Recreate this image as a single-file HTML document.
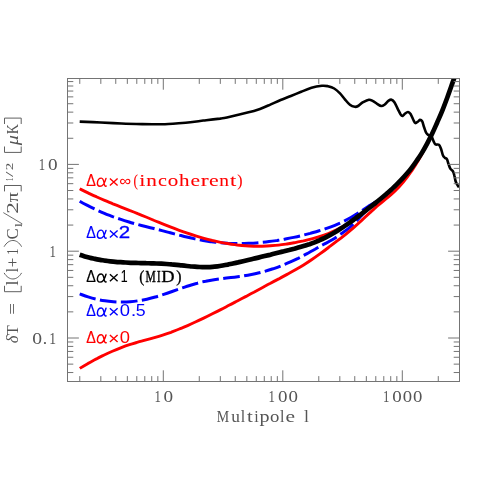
<!DOCTYPE html>
<html><head><meta charset="utf-8">
<style>
html,body{margin:0;padding:0;background:#fff;}
body{width:485px;height:485px;overflow:hidden;position:relative;font-family:"Liberation Serif",serif;}
svg{position:absolute;left:0;top:0;will-change:transform;}
</style></head><body>
<svg width="485" height="485" viewBox="0 0 485 485">
<defs><clipPath id="cp"><rect x="67" y="78" width="393" height="304"/></clipPath></defs>
<rect x="0" y="0" width="485" height="485" fill="#fff"/>
<g clip-path="url(#cp)" fill="none" stroke-linejoin="round">
<path d="M79.7 201.3C81.1 202.1 85.2 204.3 87.9 205.7C90.7 207.1 93.4 208.5 96.2 209.7C98.9 211.0 101.7 212.2 104.4 213.3C107.1 214.5 109.9 215.5 112.6 216.6C115.4 217.6 118.1 218.5 120.9 219.4C123.6 220.4 126.3 221.2 129.1 222.0C131.8 222.9 134.6 223.6 137.3 224.4C140.1 225.1 142.8 225.8 145.6 226.5C148.3 227.2 151.0 227.9 153.8 228.5C156.5 229.2 159.3 229.9 162.0 230.6C164.8 231.3 167.5 232.1 170.2 232.8C173.0 233.5 175.7 234.2 178.5 234.9C181.2 235.6 184.0 236.4 186.7 237.0C189.5 237.7 192.2 238.3 194.9 238.9C197.7 239.5 200.4 240.0 203.2 240.5C205.9 241.0 208.7 241.4 211.4 241.8C214.1 242.1 216.9 242.4 219.6 242.7C222.4 242.9 225.1 243.1 227.9 243.3C230.6 243.4 233.4 243.5 236.1 243.5C238.8 243.6 241.6 243.6 244.3 243.5C247.1 243.4 249.8 243.3 252.6 243.2C255.3 243.0 258.1 242.8 260.8 242.5C263.5 242.3 266.3 242.0 269.0 241.6C271.8 241.3 274.5 240.9 277.3 240.5C280.0 240.0 282.7 239.6 285.5 239.0C288.2 238.5 291.0 238.0 293.7 237.4C296.5 236.8 299.2 236.2 302.0 235.5C304.7 234.8 307.4 234.1 310.2 233.4C312.9 232.6 315.7 231.9 318.4 231.0C321.2 230.2 323.9 229.4 326.6 228.4C329.4 227.4 332.1 226.4 334.9 225.3C337.6 224.2 340.4 223.0 343.1 221.7C345.9 220.3 348.6 218.9 351.3 217.3C354.1 215.7 356.8 214.0 359.6 212.2C362.3 210.5 365.1 208.6 367.8 206.8C370.5 205.1 373.3 203.5 376.0 201.7C378.8 199.9 381.5 198.3 384.3 196.0C387.0 193.8 391.1 189.5 392.5 188.2" stroke="#0000ff" stroke-width="3" stroke-dasharray="16.7 4.4"/>
<path d="M79.7 293.9C81.1 294.4 85.3 296.0 88.1 296.9C90.9 297.8 93.7 298.6 96.5 299.2C99.3 299.9 102.1 300.4 104.9 300.8C107.7 301.3 110.5 301.6 113.3 301.8C116.1 302.0 118.9 302.1 121.7 302.1C124.5 302.0 127.3 301.9 130.1 301.7C132.9 301.5 135.7 301.2 138.5 300.7C141.3 300.3 144.1 299.8 146.9 299.2C149.7 298.6 152.5 297.8 155.3 297.0C158.1 296.3 160.9 295.4 163.7 294.4C166.5 293.5 169.3 292.5 172.1 291.5C174.9 290.5 177.7 289.5 180.5 288.5C183.3 287.6 186.1 286.6 188.9 285.7C191.7 284.8 194.5 283.9 197.3 283.2C200.1 282.4 202.9 281.7 205.7 281.2C208.5 280.6 211.3 280.1 214.1 279.7C216.9 279.3 219.7 278.9 222.5 278.6C225.3 278.2 228.1 277.9 230.9 277.6C233.8 277.3 236.6 276.9 239.4 276.5C242.2 276.2 245.0 275.7 247.8 275.2C250.6 274.7 253.4 274.2 256.2 273.5C259.0 272.9 261.8 272.1 264.6 271.4C267.4 270.6 270.2 269.7 273.0 268.8C275.8 267.8 278.6 266.8 281.4 265.7C284.2 264.6 287.0 263.5 289.8 262.2C292.6 261.0 295.4 259.6 298.2 258.3C301.0 256.9 303.8 255.4 306.6 253.9C309.4 252.4 312.2 250.7 315.0 249.2C317.8 247.6 320.6 246.0 323.4 244.5C326.2 243.0 329.0 241.7 331.8 240.0C334.6 238.4 337.4 236.4 340.2 234.4C343.0 232.5 345.8 230.7 348.6 228.4C351.4 226.0 354.2 223.2 357.0 220.4C359.8 217.5 362.6 214.0 365.4 211.4C368.2 208.7 371.0 206.6 373.8 204.3C376.6 202.0 380.8 198.7 382.2 197.6" stroke="#0000ff" stroke-width="3" stroke-dasharray="16.7 4.4"/>
<path d="M79.7 188.8C81.1 189.5 85.2 191.6 88.0 192.9C90.8 194.2 93.5 195.5 96.3 196.7C99.0 198.0 101.8 199.2 104.6 200.3C107.3 201.5 110.1 202.6 112.9 203.8C115.6 204.9 118.4 206.0 121.1 207.1C123.9 208.2 126.7 209.3 129.4 210.4C132.2 211.4 135.0 212.5 137.7 213.7C140.5 214.8 143.2 215.9 146.0 217.0C148.8 218.2 151.5 219.3 154.3 220.5C157.1 221.6 159.8 222.8 162.6 223.9C165.3 225.0 168.1 226.1 170.9 227.2C173.6 228.3 176.4 229.3 179.2 230.3C181.9 231.3 184.7 232.3 187.4 233.2C190.2 234.2 193.0 235.1 195.7 235.9C198.5 236.8 201.3 237.6 204.0 238.3C206.8 239.1 209.5 239.8 212.3 240.5C215.1 241.1 217.8 241.7 220.6 242.3C223.4 242.9 226.1 243.4 228.9 243.8C231.7 244.3 234.4 244.6 237.2 245.0C239.9 245.3 242.7 245.6 245.5 245.8C248.2 246.0 251.0 246.1 253.8 246.2C256.5 246.2 259.3 246.2 262.0 246.2C264.8 246.1 267.6 246.0 270.3 245.8C273.1 245.6 275.9 245.4 278.6 245.1C281.4 244.8 284.1 244.4 286.9 244.0C289.7 243.6 292.4 243.1 295.2 242.6C298.0 242.1 300.7 241.5 303.5 240.9C306.2 240.2 309.0 239.6 311.8 238.8C314.5 238.1 317.3 237.3 320.1 236.4C322.8 235.5 325.6 234.5 328.3 233.5C331.1 232.4 333.9 231.2 336.6 229.9C339.4 228.6 342.2 227.2 344.9 225.6C347.7 224.0 350.4 222.2 353.2 220.3C356.0 218.4 360.1 215.0 361.5 214.0" stroke="#ff0000" stroke-width="2.9"/>
<path d="M79.8 368.4C81.2 367.5 85.3 365.0 88.1 363.4C90.9 361.9 93.6 360.3 96.4 358.9C99.1 357.4 101.9 356.1 104.7 354.7C107.4 353.4 110.2 352.2 113.0 351.0C115.7 349.8 118.5 348.7 121.3 347.6C124.0 346.6 126.8 345.6 129.5 344.7C132.3 343.8 135.1 343.0 137.8 342.2C140.6 341.4 143.4 340.7 146.1 339.9C148.9 339.2 151.7 338.4 154.4 337.6C157.2 336.8 159.9 336.0 162.7 335.1C165.5 334.2 168.2 333.3 171.0 332.3C173.8 331.2 176.5 330.2 179.3 329.0C182.0 327.9 184.8 326.8 187.6 325.6C190.3 324.4 193.1 323.1 195.9 321.8C198.6 320.5 201.4 319.2 204.2 317.9C206.9 316.6 209.7 315.2 212.4 313.8C215.2 312.4 218.0 311.0 220.7 309.6C223.5 308.2 226.3 306.7 229.0 305.3C231.8 303.9 234.6 302.4 237.3 301.0C240.1 299.5 242.8 298.1 245.6 296.6C248.4 295.1 251.1 293.6 253.9 292.2C256.7 290.7 259.4 289.2 262.2 287.7C265.0 286.2 267.7 284.7 270.5 283.3C273.2 281.8 276.0 280.3 278.8 278.9C281.5 277.4 284.3 275.9 287.1 274.4C289.8 272.9 292.6 271.4 295.4 269.8C298.1 268.2 300.9 266.6 303.6 264.9C306.4 263.2 309.2 261.4 311.9 259.5C314.7 257.7 317.5 255.7 320.2 253.7C323.0 251.7 325.8 249.6 328.5 247.5C331.3 245.4 334.0 243.4 336.8 241.2C339.6 239.1 342.3 237.0 345.1 234.8C347.9 232.5 350.6 230.2 353.4 227.8C356.1 225.4 358.9 222.9 361.7 220.4C364.4 217.8 367.2 215.2 370.0 212.7C372.7 210.2 375.5 207.6 378.3 205.2C381.0 202.8 383.8 200.7 386.5 198.4C389.3 196.0 392.1 193.9 394.8 191.2C397.6 188.5 400.4 185.6 403.1 182.3C405.9 179.0 408.7 175.4 411.4 171.3C414.2 167.3 416.9 162.9 419.7 158.0C422.5 153.2 426.6 144.8 428.0 142.1" stroke="#ff0000" stroke-width="2.9"/>
<path d="M79.7 121.6C83.2 121.8 93.9 122.2 100.9 122.5C107.9 122.8 114.6 123.2 121.5 123.5C128.4 123.8 137.0 124.0 142.2 124.1C147.4 124.2 148.7 124.2 152.5 124.2C156.3 124.2 159.5 124.5 165.0 124.2C170.5 124.0 179.8 123.2 185.6 122.7C191.4 122.2 196.6 121.4 200.0 121.0C203.4 120.6 202.9 120.6 206.2 120.2C209.5 119.8 216.6 119.0 220.0 118.6C223.4 118.1 222.3 118.5 226.9 117.5C231.5 116.5 242.0 114.0 247.5 112.6C253.0 111.2 256.2 110.2 260.0 108.9C263.8 107.6 266.9 106.1 270.3 104.6C273.7 103.1 277.2 101.4 280.6 100.0C284.0 98.6 287.5 97.4 290.9 96.0C294.3 94.6 297.8 93.2 301.2 91.8C304.6 90.4 308.1 88.8 311.5 87.8C314.9 86.8 319.1 86.1 321.9 85.8C324.6 85.5 325.9 85.8 328.0 86.2C330.1 86.7 332.2 87.3 334.2 88.5C336.2 89.7 338.2 91.6 340.0 93.4C341.8 95.2 343.2 97.4 344.9 99.3C346.5 101.2 348.2 103.5 349.9 104.7C351.5 106.0 353.4 106.6 354.8 106.8C356.2 107.0 356.7 106.8 358.1 106.0C359.5 105.2 361.3 103.2 363.1 102.2C364.9 101.2 367.2 99.9 368.9 99.7C370.5 99.5 371.6 100.4 373.0 101.1C374.4 101.8 375.7 103.1 377.1 103.9C378.5 104.7 380.0 105.9 381.2 106.0C382.4 106.1 383.2 105.6 384.5 104.7C385.8 103.8 387.5 101.4 388.7 100.6C389.9 99.8 390.6 99.4 391.5 99.7C392.4 100.0 393.4 100.7 394.4 102.2C395.4 103.7 396.6 106.7 397.7 108.8C398.8 110.9 399.9 113.4 400.7 114.6C401.5 115.8 401.9 116.1 402.7 115.9C403.4 115.7 404.3 114.2 405.2 113.5C406.1 112.8 407.1 111.9 408.0 112.0C408.9 112.1 409.7 112.7 410.6 114.0C411.5 115.3 412.6 118.5 413.4 120.0C414.2 121.5 414.6 122.8 415.4 123.1C416.2 123.3 417.3 122.0 418.1 121.5C418.9 121.0 419.4 120.0 420.1 119.9C420.8 119.9 421.4 120.0 422.1 121.2C422.8 122.4 423.4 125.4 424.1 127.3C424.8 129.2 425.4 131.3 426.1 132.6C426.8 133.8 427.2 134.2 428.1 134.8C429.0 135.4 430.6 135.4 431.5 136.4C432.4 137.4 432.8 139.8 433.5 141.1C434.2 142.4 434.6 143.8 435.5 144.4C436.4 145.0 438.0 144.1 438.9 144.8C439.8 145.5 440.2 146.8 440.9 148.5C441.6 150.2 442.2 153.6 442.9 155.2C443.6 156.8 444.2 157.1 444.9 157.8C445.6 158.5 446.3 158.2 446.9 159.2C447.5 160.2 447.9 162.3 448.5 163.9C449.1 165.5 449.6 167.4 450.3 168.6C451.0 169.8 452.2 170.1 452.9 171.2C453.6 172.3 453.9 173.6 454.3 175.3C454.8 177.0 455.1 179.6 455.6 181.3C456.2 183.0 457.0 184.3 457.6 185.3C458.2 186.3 458.8 187.0 459.0 187.3" stroke="#000" stroke-width="2.6"/>
<path d="M79.7 254.8C80.6 255.1 83.1 255.9 84.8 256.4C86.5 256.9 88.2 257.3 89.9 257.7C91.6 258.2 93.3 258.5 95.0 258.9C96.7 259.3 98.4 259.6 100.1 259.9C101.8 260.2 103.5 260.4 105.2 260.7C106.9 260.9 108.6 261.1 110.3 261.3C112.0 261.5 113.7 261.7 115.4 261.8C117.1 262.0 118.9 262.1 120.6 262.2C122.3 262.4 124.0 262.5 125.7 262.5C127.4 262.6 129.1 262.7 130.8 262.8C132.5 262.8 134.2 262.9 135.9 262.9C137.6 263.0 139.3 263.0 141.0 263.1C142.7 263.1 144.4 263.1 146.1 263.2C147.8 263.2 149.5 263.3 151.2 263.3C152.9 263.4 154.6 263.4 156.3 263.5C158.0 263.5 159.7 263.6 161.4 263.7C163.1 263.8 164.8 263.9 166.5 264.0C168.2 264.1 169.9 264.2 171.6 264.4C173.3 264.5 175.0 264.7 176.7 264.9C178.4 265.1 180.1 265.2 181.8 265.4C183.5 265.6 185.2 265.8 186.9 266.0C188.6 266.2 190.3 266.3 192.0 266.5C193.8 266.6 195.5 266.8 197.2 266.9C198.9 267.0 200.6 267.0 202.3 267.1C204.0 267.1 205.7 267.1 207.4 267.1C209.1 267.1 210.8 267.0 212.5 266.8C214.2 266.7 215.9 266.5 217.6 266.3C219.3 266.1 221.0 265.8 222.7 265.5C224.4 265.2 226.1 264.9 227.8 264.6C229.5 264.2 231.2 263.9 232.9 263.5C234.6 263.1 236.3 262.7 238.0 262.4C239.7 262.0 241.4 261.6 243.1 261.2C244.8 260.8 246.5 260.4 248.2 260.0C249.9 259.6 251.6 259.2 253.3 258.8C255.0 258.4 256.7 258.0 258.4 257.6C260.1 257.2 261.8 256.8 263.5 256.3C265.2 255.9 266.9 255.5 268.7 255.1C270.4 254.7 272.1 254.2 273.8 253.8C275.5 253.4 277.2 253.0 278.9 252.5C280.6 252.1 282.3 251.7 284.0 251.3C285.7 250.8 287.4 250.4 289.1 250.0C290.8 249.5 292.5 249.1 294.2 248.7C295.9 248.2 297.6 247.8 299.3 247.3C301.0 246.8 302.7 246.3 304.4 245.8C306.1 245.3 307.8 244.7 309.5 244.2C311.2 243.6 312.9 243.0 314.6 242.3C316.3 241.6 318.0 240.9 319.7 240.2C321.4 239.4 323.1 238.6 324.8 237.8C326.5 236.9 328.2 236.0 329.9 235.1C331.6 234.2 333.3 233.2 335.0 232.2C336.7 231.2 338.4 230.1 340.1 229.0C341.8 227.9 343.5 226.8 345.3 225.6C347.0 224.5 348.7 223.3 350.4 222.1C352.1 220.9 353.8 219.6 355.5 218.4C357.2 217.1 358.9 215.9 360.6 214.6C362.3 213.3 364.0 212.0 365.7 210.7C367.4 209.3 369.1 208.0 370.8 206.7C372.5 205.3 374.2 204.0 375.9 202.6C377.6 201.3 379.3 199.9 381.0 198.5C382.7 197.1 384.4 195.7 386.1 194.2C387.8 192.7 389.5 191.3 391.2 189.7C392.9 188.1 394.6 186.6 396.3 184.9C398.0 183.2 399.7 181.5 401.4 179.7C403.1 177.9 404.8 176.1 406.5 174.1C408.2 172.1 409.9 170.1 411.6 167.8C413.3 165.6 415.0 163.3 416.7 160.8C418.4 158.3 420.2 155.7 421.9 152.9C423.6 150.1 425.3 147.1 427.0 143.9C428.7 140.7 430.4 137.3 432.1 133.8C433.8 130.2 435.5 126.3 437.2 122.5C438.9 118.6 440.6 114.8 442.3 110.6C444.0 106.4 445.7 101.8 447.4 97.2C449.1 92.6 450.8 87.7 452.5 82.9C454.2 78.1 456.7 71.0 457.6 68.6" stroke="#000" stroke-width="4.7"/>
</g>
<g fill="none" stroke="#747474" stroke-width="1">
<rect x="67.5" y="78.5" width="392.0" height="303.0" shape-rendering="crispEdges"/>
<path d="M79.77 381.5v-5.4M79.77 78.5v5.4M100.82 381.5v-5.4M100.82 78.5v5.4M115.75 381.5v-5.4M115.75 78.5v5.4M127.33 381.5v-5.4M127.33 78.5v5.4M136.79 381.5v-5.4M136.79 78.5v5.4M144.79 381.5v-5.4M144.79 78.5v5.4M151.72 381.5v-5.4M151.72 78.5v5.4M157.83 381.5v-5.4M157.83 78.5v5.4M163.30 381.5v-11.2M163.30 78.5v11.2M199.27 381.5v-5.4M199.27 78.5v5.4M220.32 381.5v-5.4M220.32 78.5v5.4M235.25 381.5v-5.4M235.25 78.5v5.4M246.83 381.5v-5.4M246.83 78.5v5.4M256.29 381.5v-5.4M256.29 78.5v5.4M264.29 381.5v-5.4M264.29 78.5v5.4M271.22 381.5v-5.4M271.22 78.5v5.4M277.33 381.5v-5.4M277.33 78.5v5.4M282.80 381.5v-11.2M282.80 78.5v11.2M318.77 381.5v-5.4M318.77 78.5v5.4M339.82 381.5v-5.4M339.82 78.5v5.4M354.75 381.5v-5.4M354.75 78.5v5.4M366.33 381.5v-5.4M366.33 78.5v5.4M375.79 381.5v-5.4M375.79 78.5v5.4M383.79 381.5v-5.4M383.79 78.5v5.4M390.72 381.5v-5.4M390.72 78.5v5.4M396.83 381.5v-5.4M396.83 78.5v5.4M402.30 381.5v-11.2M402.30 78.5v11.2M438.27 381.5v-5.4M438.27 78.5v5.4M67.5 372.54h5.8M459.5 372.54h-5.8M67.5 364.13h5.8M459.5 364.13h-5.8M67.5 357.26h5.8M459.5 357.26h-5.8M67.5 351.45h5.8M459.5 351.45h-5.8M67.5 346.41h5.8M459.5 346.41h-5.8M67.5 341.97h5.8M459.5 341.97h-5.8M67.5 338.00h11.4M459.5 338.00h-11.4M67.5 311.87h5.8M459.5 311.87h-5.8M67.5 296.59h5.8M459.5 296.59h-5.8M67.5 285.74h5.8M459.5 285.74h-5.8M67.5 277.33h5.8M459.5 277.33h-5.8M67.5 270.46h5.8M459.5 270.46h-5.8M67.5 264.65h5.8M459.5 264.65h-5.8M67.5 259.61h5.8M459.5 259.61h-5.8M67.5 255.17h5.8M459.5 255.17h-5.8M67.5 251.20h11.4M459.5 251.20h-11.4M67.5 225.07h5.8M459.5 225.07h-5.8M67.5 209.79h5.8M459.5 209.79h-5.8M67.5 198.94h5.8M459.5 198.94h-5.8M67.5 190.53h5.8M459.5 190.53h-5.8M67.5 183.66h5.8M459.5 183.66h-5.8M67.5 177.85h5.8M459.5 177.85h-5.8M67.5 172.81h5.8M459.5 172.81h-5.8M67.5 168.37h5.8M459.5 168.37h-5.8M67.5 164.40h11.4M459.5 164.40h-11.4M67.5 138.27h5.8M459.5 138.27h-5.8M67.5 122.99h5.8M459.5 122.99h-5.8M67.5 112.14h5.8M459.5 112.14h-5.8M67.5 103.73h5.8M459.5 103.73h-5.8M67.5 96.86h5.8M459.5 96.86h-5.8M67.5 91.05h5.8M459.5 91.05h-5.8M67.5 86.01h5.8M459.5 86.01h-5.8M67.5 81.57h5.8M459.5 81.57h-5.8"/>
</g>
<text transform="translate(154.40,402.20) scale(0.776,1)" font-family="Liberation Serif" font-size="16.5" fill="#555">1</text>
<text transform="translate(163.60,402.20) scale(1.164,1)" font-family="Liberation Serif" font-size="16.5" fill="#555">0</text>
<text transform="translate(268.60,402.20) scale(0.776,1)" font-family="Liberation Serif" font-size="16.5" fill="#555">1</text>
<text transform="translate(277.91,402.20) scale(1.150,1)" font-family="Liberation Serif" font-size="16.5" fill="#555">0</text>
<text transform="translate(288.41,402.20) scale(1.150,1)" font-family="Liberation Serif" font-size="16.5" fill="#555">0</text>
<text transform="translate(383.00,402.20) scale(0.776,1)" font-family="Liberation Serif" font-size="16.5" fill="#555">1</text>
<text transform="translate(392.31,402.20) scale(1.150,1)" font-family="Liberation Serif" font-size="16.5" fill="#555">0</text>
<text transform="translate(402.71,402.20) scale(1.136,1)" font-family="Liberation Serif" font-size="16.5" fill="#555">0</text>
<text transform="translate(413.01,402.20) scale(1.136,1)" font-family="Liberation Serif" font-size="16.5" fill="#555">0</text>
<text transform="translate(38.80,170.00) scale(0.776,1)" font-family="Liberation Serif" font-size="16.5" fill="#555">1</text>
<text transform="translate(48.00,170.00) scale(1.164,1)" font-family="Liberation Serif" font-size="16.5" fill="#555">0</text>
<text transform="translate(49.50,256.70) scale(0.776,1)" font-family="Liberation Serif" font-size="16.5" fill="#555">1</text>
<text transform="translate(32.19,343.80) scale(1.191,1)" font-family="Liberation Serif" font-size="16.5" fill="#555">0</text>
<text transform="translate(42.70,343.80) scale(1.067,1)" font-family="Liberation Serif" font-size="16.5" fill="#555">.</text>
<text transform="translate(49.24,343.80) scale(0.824,1)" font-family="Liberation Serif" font-size="16.5" fill="#555">1</text>
<text transform="translate(216.78,422.30) scale(0.846,1)" font-family="Liberation Serif" font-size="16.5" fill="#555">M</text>
<text transform="translate(231.20,422.30) scale(1.051,1)" font-family="Liberation Serif" font-size="16.5" fill="#555">u</text>
<text transform="translate(240.75,422.30) scale(0.970,1)" font-family="Liberation Serif" font-size="16.5" fill="#555">l</text>
<text transform="translate(247.00,422.30) scale(1.271,1)" font-family="Liberation Serif" font-size="16.5" fill="#555">t</text>
<text transform="translate(254.15,422.30) scale(0.970,1)" font-family="Liberation Serif" font-size="16.5" fill="#555">i</text>
<text transform="translate(259.49,422.30) scale(1.217,1)" font-family="Liberation Serif" font-size="16.5" fill="#555">p</text>
<text transform="translate(269.91,422.30) scale(1.136,1)" font-family="Liberation Serif" font-size="16.5" fill="#555">o</text>
<text transform="translate(279.95,422.30) scale(0.970,1)" font-family="Liberation Serif" font-size="16.5" fill="#555">l</text>
<text transform="translate(285.53,422.30) scale(1.303,1)" font-family="Liberation Serif" font-size="16.5" fill="#555">e</text>
<text transform="translate(304.12,422.30) scale(1.091,1)" font-family="Liberation Serif" font-size="16.5" fill="#555">l</text>
<text transform="translate(86.18,186.30) scale(0.923,1)" font-family="Liberation Sans" font-size="15.6" fill="#ff0000" stroke="#ff0000" stroke-width="0.16">Δ</text>
<text transform="translate(86.18,238.30) scale(0.923,1)" font-family="Liberation Sans" font-size="15.6" fill="#0000ff" stroke="#0000ff" stroke-width="0.16">Δ</text>
<text transform="translate(86.18,282.10) scale(0.923,1)" font-family="Liberation Sans" font-size="15.6" fill="#000" stroke="#000" stroke-width="0.16">Δ</text>
<text transform="translate(86.18,316.10) scale(0.923,1)" font-family="Liberation Sans" font-size="15.6" fill="#0000ff" stroke="#0000ff" stroke-width="0.16">Δ</text>
<text transform="translate(86.18,342.90) scale(0.923,1)" font-family="Liberation Sans" font-size="15.6" fill="#ff0000" stroke="#ff0000" stroke-width="0.16">Δ</text>
<text transform="translate(119.17,186.30) scale(1.081,1)" font-family="Liberation Sans" font-size="15.6" fill="#ff0000">∞</text>
<text transform="translate(118.74,238.30) scale(1.313,1)" font-family="Liberation Sans" font-size="15.6" fill="#0000ff" stroke="#0000ff" stroke-width="0.30">2</text>
<text transform="translate(120.83,282.10) scale(0.792,1)" font-family="Liberation Sans" font-size="15.6" fill="#000" stroke="#000" stroke-width="0.13">1</text>
<text transform="translate(119.73,316.10) scale(1.150,1)" font-family="Liberation Sans" font-size="16.0" fill="#0000ff">0</text>
<text transform="translate(130.73,316.10) scale(1.257,1)" font-family="Liberation Sans" font-size="16.0" fill="#0000ff">.</text>
<text transform="translate(135.85,316.10) scale(1.110,1)" font-family="Liberation Sans" font-size="16.0" fill="#0000ff">5</text>
<text transform="translate(119.73,342.90) scale(1.150,1)" font-family="Liberation Sans" font-size="16.0" fill="#ff0000">0</text>
<text transform="translate(133.59,186.40) scale(0.752,1)" font-family="Liberation Serif" font-size="17.5" fill="#ff0000" stroke="#ff0000" stroke-width="0.11">(</text>
<text transform="translate(139.26,186.40) scale(1.257,1)" font-family="Liberation Serif" font-size="17.5" fill="#ff0000" stroke="#ff0000" stroke-width="0.08">i</text>
<text transform="translate(146.37,186.40) scale(1.215,1)" font-family="Liberation Serif" font-size="17.5" fill="#ff0000" stroke="#ff0000" stroke-width="0.08">n</text>
<text transform="translate(158.08,186.40) scale(1.141,1)" font-family="Liberation Serif" font-size="17.5" fill="#ff0000" stroke="#ff0000" stroke-width="0.08">c</text>
<text transform="translate(167.74,186.40) scale(1.202,1)" font-family="Liberation Serif" font-size="17.5" fill="#ff0000" stroke="#ff0000" stroke-width="0.08">o</text>
<text transform="translate(178.90,186.40) scale(1.200,1)" font-family="Liberation Serif" font-size="17.5" fill="#ff0000" stroke="#ff0000" stroke-width="0.08">h</text>
<text transform="translate(190.53,186.40) scale(1.229,1)" font-family="Liberation Serif" font-size="17.5" fill="#ff0000" stroke="#ff0000" stroke-width="0.08">e</text>
<text transform="translate(200.73,186.40) scale(1.353,1)" font-family="Liberation Serif" font-size="17.5" fill="#ff0000" stroke="#ff0000" stroke-width="0.08">r</text>
<text transform="translate(209.02,186.40) scale(1.243,1)" font-family="Liberation Serif" font-size="17.5" fill="#ff0000" stroke="#ff0000" stroke-width="0.08">e</text>
<text transform="translate(219.30,186.40) scale(1.109,1)" font-family="Liberation Serif" font-size="17.5" fill="#ff0000" stroke="#ff0000" stroke-width="0.08">n</text>
<text transform="translate(230.00,186.40) scale(1.280,1)" font-family="Liberation Serif" font-size="17.5" fill="#ff0000" stroke="#ff0000" stroke-width="0.08">t</text>
<text transform="translate(237.31,186.40) scale(0.904,1)" font-family="Liberation Serif" font-size="17.5" fill="#ff0000" stroke="#ff0000" stroke-width="0.09">)</text>
<text transform="translate(139.22,282.10) scale(0.874,1)" font-family="Liberation Serif" font-size="17.5" fill="#000" stroke="#000" stroke-width="0.34">(</text>
<text transform="translate(145.62,282.10) scale(0.658,1)" font-family="Liberation Serif" font-size="17.5" fill="#000" stroke="#000" stroke-width="0.46">M</text>
<text transform="translate(157.07,282.10) scale(0.610,1)" font-family="Liberation Serif" font-size="17.5" fill="#000" stroke="#000" stroke-width="0.49">I</text>
<text transform="translate(161.21,282.10) scale(1.055,1)" font-family="Liberation Serif" font-size="17.5" fill="#000" stroke="#000" stroke-width="0.30">D</text>
<text transform="translate(176.31,282.10) scale(0.904,1)" font-family="Liberation Serif" font-size="17.5" fill="#000" stroke="#000" stroke-width="0.33">)</text>
<path transform="translate(96.7,178.00)" d="M9.3 0.4C8.2 4.5 6 8.3 3.3 8.3C1.3 8.3 0.6 6.6 0.7 5C0.9 2.2 2.6 0.1 4.6 0.1C6.6 0.1 7.1 3 7.5 5.5C7.8 7.3 8.2 8.4 9.5 8.1" fill="none" stroke="#ff0000" stroke-width="1.45" stroke-linecap="round" stroke-linejoin="round"/>
<path d="M109.9 178.40L117.6 185.40M117.6 178.40L109.9 185.40" fill="none" stroke="#ff0000" stroke-width="1.4"/>
<path transform="translate(96.7,230.00)" d="M9.3 0.4C8.2 4.5 6 8.3 3.3 8.3C1.3 8.3 0.6 6.6 0.7 5C0.9 2.2 2.6 0.1 4.6 0.1C6.6 0.1 7.1 3 7.5 5.5C7.8 7.3 8.2 8.4 9.5 8.1" fill="none" stroke="#0000ff" stroke-width="1.45" stroke-linecap="round" stroke-linejoin="round"/>
<path d="M109.9 230.40L117.6 237.40M117.6 230.40L109.9 237.40" fill="none" stroke="#0000ff" stroke-width="1.4"/>
<path transform="translate(96.7,273.80)" d="M9.3 0.4C8.2 4.5 6 8.3 3.3 8.3C1.3 8.3 0.6 6.6 0.7 5C0.9 2.2 2.6 0.1 4.6 0.1C6.6 0.1 7.1 3 7.5 5.5C7.8 7.3 8.2 8.4 9.5 8.1" fill="none" stroke="#000" stroke-width="1.45" stroke-linecap="round" stroke-linejoin="round"/>
<path d="M109.9 274.20L117.6 281.20M117.6 274.20L109.9 281.20" fill="none" stroke="#000" stroke-width="1.4"/>
<path transform="translate(96.7,307.80)" d="M9.3 0.4C8.2 4.5 6 8.3 3.3 8.3C1.3 8.3 0.6 6.6 0.7 5C0.9 2.2 2.6 0.1 4.6 0.1C6.6 0.1 7.1 3 7.5 5.5C7.8 7.3 8.2 8.4 9.5 8.1" fill="none" stroke="#0000ff" stroke-width="1.45" stroke-linecap="round" stroke-linejoin="round"/>
<path d="M109.9 308.20L117.6 315.20M117.6 308.20L109.9 315.20" fill="none" stroke="#0000ff" stroke-width="1.4"/>
<path transform="translate(96.7,334.60)" d="M9.3 0.4C8.2 4.5 6 8.3 3.3 8.3C1.3 8.3 0.6 6.6 0.7 5C0.9 2.2 2.6 0.1 4.6 0.1C6.6 0.1 7.1 3 7.5 5.5C7.8 7.3 8.2 8.4 9.5 8.1" fill="none" stroke="#ff0000" stroke-width="1.45" stroke-linecap="round" stroke-linejoin="round"/>
<path d="M109.9 335.00L117.6 342.00M117.6 335.00L109.9 342.00" fill="none" stroke="#ff0000" stroke-width="1.4"/>
<g transform="translate(17.9,343.3) rotate(-90)">
<text transform="translate(-0.06,0.00) scale(1.021,1)" font-family="Liberation Serif" font-size="16.3" fill="#555" font-style="italic">δ</text>
<text transform="translate(8.04,0.00) scale(1.002,1)" font-family="Liberation Serif" font-size="16.3" fill="#555">T</text>
<text transform="translate(28.51,0.00) scale(1.296,1)" font-family="Liberation Serif" font-size="16.3" fill="#555">=</text>
<text transform="translate(57.92,0.00) scale(1.104,1)" font-family="Liberation Serif" font-size="16.3" fill="#555">l</text>
<text transform="translate(71.16,0.00) scale(0.957,1)" font-family="Liberation Serif" font-size="16.3" fill="#555">l</text>
<text transform="translate(75.77,0.00) scale(1.086,1)" font-family="Liberation Serif" font-size="16.3" fill="#555">+</text>
<text transform="translate(88.26,0.00) scale(0.818,1)" font-family="Liberation Serif" font-size="16.3" fill="#555">1</text>
<text transform="translate(103.68,0.00) scale(1.023,1)" font-family="Liberation Serif" font-size="16.3" fill="#555">C</text>
<text transform="translate(115.97,4.40) scale(1.480,1)" font-family="Liberation Serif" font-size="10.0" fill="#555">l</text>
<text transform="translate(129.67,0.00) scale(1.440,1)" font-family="Liberation Serif" font-size="16.3" fill="#555">2</text>
<text transform="translate(141.10,0.00) scale(1.215,1)" font-family="Liberation Serif" font-size="16.3" fill="#555">π</text>
<text transform="translate(162.28,-4.70) scale(0.654,1)" font-family="Liberation Serif" font-size="10.2" fill="#555">1</text>
<text transform="translate(166.27,-4.70) scale(1.900,1)" font-family="Liberation Serif" font-size="10.2" fill="#555">/</text>
<text transform="translate(173.03,-4.70) scale(1.464,1)" font-family="Liberation Serif" font-size="10.2" fill="#555">2</text>
<text transform="translate(198.02,0.00) scale(1.254,1)" font-family="Liberation Serif" font-size="16.3" fill="#555" font-style="italic">μ</text>
<text transform="translate(209.08,0.00) scale(0.864,1)" font-family="Liberation Serif" font-size="16.3" fill="#555">K</text>
<g stroke="#606060" stroke-width="1" fill="none">
<path d="M119.4 4.4L130.7 -14.6" stroke-width="0.9"/>
<path d="M57.5 -13.4H51.6V3.3H57.5"/>
<path d="M151.9 -13.4H157.8V3.3H151.9"/>
<path d="M196.8 -13.4H190.9V3.3H196.8"/>
<path d="M219.3 -13.4H225.2V3.3H219.3"/>
<path d="M70.4 -13.8C62.3 -9 62.3 -1 70.4 3.7"/>
<path d="M96.6 -13.8C104.9 -9 104.9 -1 96.6 3.7"/>
</g>
</g>
</svg>
</body></html>
